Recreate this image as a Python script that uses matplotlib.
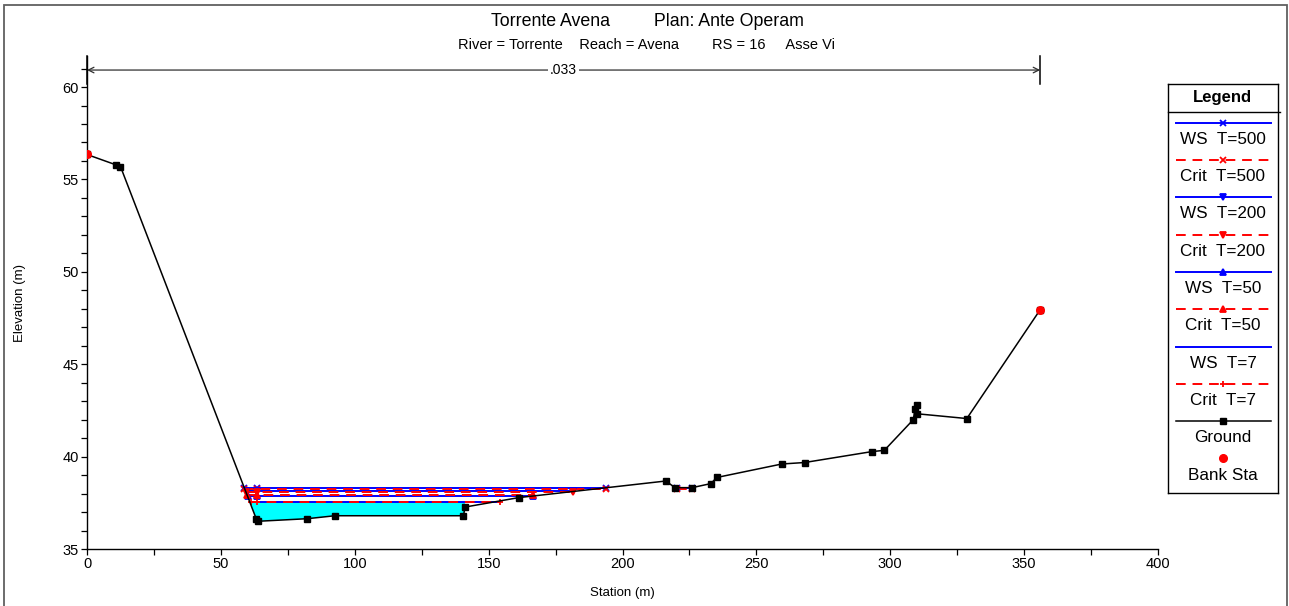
import matplotlib
matplotlib.use("Agg")
import matplotlib.pyplot as plt
from matplotlib.patches import Rectangle
import numpy as np

plt.rcParams['font.family'] = ['Liberation Sans', 'DejaVu Sans']

# ---------------- data ----------------
ground_sta = [0.0, 11.0, 12.5, 63.3, 63.8, 82.3, 92.6, 140.6, 141.2, 161.2,
              216.2, 219.6, 226.0, 233.0, 235.2, 259.5, 268.0, 293.1, 297.8,
              308.6, 309.3, 309.9, 309.9, 328.6, 356.0]
ground_elev = [56.35, 55.78, 55.70, 36.60, 36.50, 36.64, 36.80, 36.80, 37.27, 37.78,
               38.68, 38.32, 38.32, 38.54, 38.87, 39.60, 39.68, 40.27, 40.34,
               42.00, 42.60, 42.80, 42.32, 42.06, 47.95]

bank_sta = [0.0, 356.0]
bank_elev = [56.35, 47.95]

# profiles: name, elevation, segments (start, end) stations, marker stations
profile_names = ["WS T=500", "Crit T=500", "WS T=200", "Crit T=200",
                 "WS T=50", "Crit T=50", "WS T=7", "Crit T=7"]
profile_elev = [38.30, 38.27, 38.15, 38.10, 37.86, 37.91, 37.55, 37.53]
profile_segments = [
    [(58.7, 193.8), (220.3, 226.0)],
    [(58.8, 193.8), (220.3, 226.0)],
    [(59.2, 181.4)],
    [(59.3, 181.4)],
    [(60.0, 166.7)],
    [(59.8, 166.7)],
    [(60.8, 154.2)],
    [(60.9, 154.2)],
]
profile_markers = [
    [58.7, 63.4, 193.8, 220.3, 226.0],
    [58.8, 63.4, 193.8, 220.3, 226.0],
    [59.2, 63.4, 181.4],
    [59.3, 63.4, 181.4],
    [60.0, 63.4, 166.7],
    [59.8, 63.4, 166.7],
    [],
    [61.2, 63.4, 154.2],
]
fill_range = (60.8, 141.2)   # wetted area shown for lowest profile

n_value_label = ".033"
n_value_range = (0.0, 356.0)

title_line1 = "Torrente Avena         Plan: Ante Operam"
title_line2 = "River = Torrente    Reach = Avena        RS = 16     Asse Vi"

# ---------------- styles ----------------
prof_colors = ['#0000ff', '#ff0000'] * 4
prof_ls = ['-', (0, (5, 3.5))] * 4
prof_markers = ['x', 'x', 'v', 'v', '^', '^', None, '+']

W, H = 1289, 606
fig = plt.figure(figsize=(W / 100, H / 100), dpi=100)

# outer frame
fig.patches.append(Rectangle((4 / W, -0.02), (1286.5 - 4) / W, 1 - 5.3 / H + 0.02,
                             transform=fig.transFigure, fill=False,
                             edgecolor='#606060', linewidth=1.3))

ax = fig.add_axes([87 / W, 1 - 549 / H, (1158 - 87) / W, (549 - 56) / H])
ax.set_xlim(0, 400)
ax.set_ylim(35, 61.68)
for s in ['top', 'right']:
    ax.spines[s].set_visible(False)
for s in ['left', 'bottom']:
    ax.spines[s].set_linewidth(1.0)

ax.set_xticks(np.arange(0, 401, 50))
ax.set_xticks(np.arange(0, 401, 25), minor=True)
ax.set_yticks(np.arange(35, 61, 5))
ax.set_yticks(np.arange(35, 62, 1), minor=True)
ax.tick_params(which='both', direction='out', length=4, width=0.9, labelsize=10.5, pad=2)
ax.set_xlabel("Station (m)", fontsize=9.5, labelpad=11)
ax.set_ylabel("Elevation (m)", fontsize=9.5, labelpad=26)

# wetted fill for lowest WS
gs = np.array(ground_sta)
ge = np.array(ground_elev)
x0, x1 = fill_range
inner = [(s, e) for s, e in zip(gs, ge) if x0 < s <= x1]
fx = [x0] + [p[0] for p in inner] + [x1]
fy = [profile_elev[6]] + [p[1] for p in inner] + [profile_elev[6]]
ax.fill(fx, fy, color='#00ffff', zorder=1, linewidth=0)

# profiles
for i in range(len(profile_names)):
    el = profile_elev[i]
    for (a, b) in profile_segments[i]:
        ax.plot([a, b], [el, el], color=prof_colors[i], linestyle=prof_ls[i],
                linewidth=1.4, zorder=2 + i * 0.1)
    if prof_markers[i] is not None and profile_markers[i]:
        ax.plot(profile_markers[i], [el] * len(profile_markers[i]), linestyle='none',
                marker=prof_markers[i], color=prof_colors[i], markersize=5,
                markeredgewidth=1.3, zorder=4)

# ground
ax.plot(ground_sta, ground_elev, color='black', linewidth=1.1, marker='s',
        markersize=4.3, zorder=5)
ax.plot(bank_sta, bank_elev, linestyle='none', marker='o', color='#ff0000',
        markersize=5.5, zorder=6)

# n-value bracket
yb = 60.92
ax.annotate('', xy=(n_value_range[0], yb), xytext=(n_value_range[1], yb),
            arrowprops=dict(arrowstyle='<->', lw=0.9, color='#303030',
                            shrinkA=0, shrinkB=0, mutation_scale=10),
            annotation_clip=False)
for xb in n_value_range:
    ax.plot([xb, xb], [60.15, 61.66], color='black', linewidth=1.1, clip_on=False)
ax.text(sum(n_value_range) / 2, yb, n_value_label, ha='center', va='center',
        fontsize=10, bbox=dict(facecolor='white', edgecolor='none', pad=1.5))

# titles
fig.text(0.5 + 2.5 / W, 1 - 21.7 / H, title_line1, ha='center', va='center', fontsize=12.8)
fig.text(0.5 + 2.5 / W, 1 - 45 / H, title_line2, ha='center', va='center', fontsize=10.5)

# legend
lx0, lx1, ly0, ly1 = 1168, 1277.5, 84, 493
lax = fig.add_axes([lx0 / W, 1 - ly1 / H, (lx1 - lx0) / W, (ly1 - ly0) / H])
lax.set_xlim(lx0, lx1)
lax.set_ylim(ly1, ly0)
lax.set_xticks([])
lax.set_yticks([])
for s in lax.spines.values():
    s.set_linewidth(1.0)
lax.plot([lx0, lx1 + 2], [111.7, 111.7], color='black', linewidth=1.0, clip_on=False)
lax.text((lx0 + lx1) / 2, 97.5, "Legend", ha='center', va='center', fontsize=12,
         fontweight='bold')
cx = 1223
for i in range(len(profile_names)):
    yl = 122.7 + i * 37.3
    lax.plot([1176, 1271], [yl, yl], color=prof_colors[i], linestyle=prof_ls[i],
             linewidth=1.4)
    if prof_markers[i] is not None:
        lax.plot([cx], [yl], marker=prof_markers[i], color=prof_colors[i],
                 markersize=5, markeredgewidth=1.3, linestyle='none')
    lax.text(cx, yl + 16.6, profile_names[i].replace(' ', '  '), ha='center',
             va='center', fontsize=12.3)
yl = 122.7 + 8 * 37.3
lax.plot([1176, 1271], [yl, yl], color='black', linewidth=1.1)
lax.plot([cx], [yl], marker='s', color='black', markersize=4.3)
lax.text(cx, yl + 16.6, "Ground", ha='center', va='center', fontsize=12.3)
yl = 122.7 + 9 * 37.3
lax.plot([cx], [yl], marker='o', color='#ff0000', markersize=5.5)
lax.text(cx, yl + 16.6, "Bank Sta", ha='center', va='center', fontsize=12.3)

fig.savefig("out.png", dpi=100)
